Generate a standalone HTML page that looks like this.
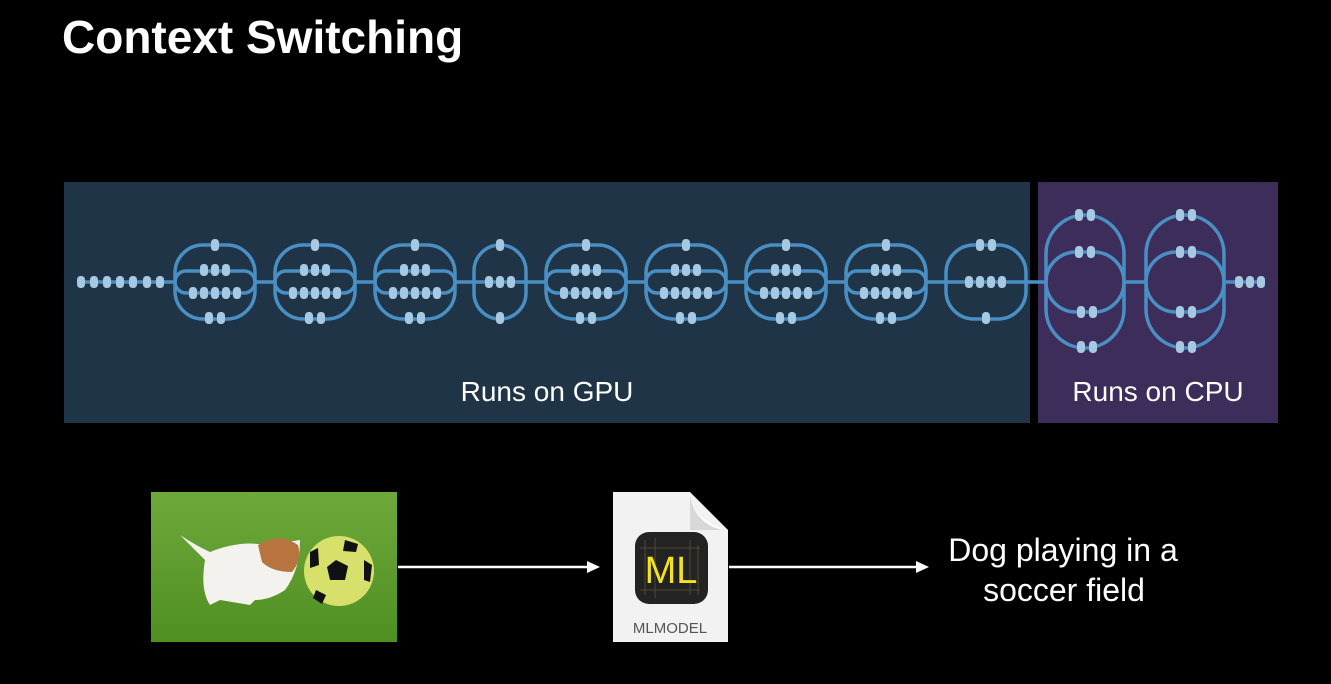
<!DOCTYPE html>
<html><head><meta charset="utf-8"><style>
html,body{margin:0;padding:0;background:#000;}
body{width:1331px;height:684px;overflow:hidden;font-family:"Liberation Sans",sans-serif;}
</style></head><body>
<svg width="1331" height="684" viewBox="0 0 1331 684" xmlns="http://www.w3.org/2000/svg" style="display:block">
<defs>
<rect id="d" x="-4" y="-6" width="8" height="12" rx="3.5" fill="#a6c9e1"/>
<linearGradient id="g" x1="0" y1="0" x2="0" y2="1"><stop offset="0" stop-color="#6fa83a"/><stop offset="1" stop-color="#4f8f22"/></linearGradient>
</defs>
<rect width="1331" height="684" fill="#000"/>
<text x="62" y="53" fill="#fff" font-size="46" font-weight="bold">Context Switching</text>
<rect x="64" y="182" width="966" height="241" fill="#1f3446"/>
<rect x="1038" y="182" width="240" height="241" fill="#3d2d5a"/>
<text x="547" y="401" fill="#fff" font-size="28" text-anchor="middle">Runs on GPU</text>
<text x="1158" y="401" fill="#fff" font-size="28" text-anchor="middle">Runs on CPU</text>
<g stroke="#4a8fc4" stroke-width="3.5" fill="none">
<path d="M80 282H175M255 282H275M355 282H375M455 282H474M474 282H526M526 282H546M626 282H646M726 282H746M826 282H846M926 282H946M946 282H1026M1026 282H1046M1124 282H1146M1224 282H1262"/>
<rect x="175" y="245" width="80" height="74" rx="28"/><rect x="175" y="271" width="80" height="22" rx="11"/>
<rect x="275" y="245" width="80" height="74" rx="28"/><rect x="275" y="271" width="80" height="22" rx="11"/>
<rect x="375" y="245" width="80" height="74" rx="28"/><rect x="375" y="271" width="80" height="22" rx="11"/>
<rect x="474" y="245" width="52" height="74" rx="26"/>
<rect x="546" y="245" width="80" height="74" rx="28"/><rect x="546" y="271" width="80" height="22" rx="11"/>
<rect x="646" y="245" width="80" height="74" rx="28"/><rect x="646" y="271" width="80" height="22" rx="11"/>
<rect x="746" y="245" width="80" height="74" rx="28"/><rect x="746" y="271" width="80" height="22" rx="11"/>
<rect x="846" y="245" width="80" height="74" rx="28"/><rect x="846" y="271" width="80" height="22" rx="11"/>
<rect x="946" y="245" width="80" height="74" rx="28"/>
<rect x="1046" y="215" width="78" height="133" rx="39"/><rect x="1046" y="252" width="78" height="60" rx="30"/>
<rect x="1146" y="215" width="78" height="133" rx="39"/><rect x="1146" y="252" width="78" height="60" rx="30"/>
</g>
<g>
<use href="#d" x="81" y="282"/><use href="#d" x="94" y="282"/><use href="#d" x="107" y="282"/><use href="#d" x="120" y="282"/><use href="#d" x="133" y="282"/><use href="#d" x="147" y="282"/><use href="#d" x="160" y="282"/>
<use href="#d" x="215" y="245"/><use href="#d" x="204" y="270"/><use href="#d" x="215" y="270"/><use href="#d" x="226" y="270"/>
<use href="#d" x="193" y="293"/><use href="#d" x="204" y="293"/><use href="#d" x="215" y="293"/><use href="#d" x="226" y="293"/><use href="#d" x="237" y="293"/>
<use href="#d" x="209" y="318"/><use href="#d" x="221" y="318"/>
<use href="#d" x="315" y="245"/><use href="#d" x="304" y="270"/><use href="#d" x="315" y="270"/><use href="#d" x="326" y="270"/>
<use href="#d" x="293" y="293"/><use href="#d" x="304" y="293"/><use href="#d" x="315" y="293"/><use href="#d" x="326" y="293"/><use href="#d" x="337" y="293"/>
<use href="#d" x="309" y="318"/><use href="#d" x="321" y="318"/>
<use href="#d" x="415" y="245"/><use href="#d" x="404" y="270"/><use href="#d" x="415" y="270"/><use href="#d" x="426" y="270"/>
<use href="#d" x="393" y="293"/><use href="#d" x="404" y="293"/><use href="#d" x="415" y="293"/><use href="#d" x="426" y="293"/><use href="#d" x="437" y="293"/>
<use href="#d" x="409" y="318"/><use href="#d" x="421" y="318"/>
<use href="#d" x="500" y="245"/><use href="#d" x="489" y="282"/><use href="#d" x="500" y="282"/><use href="#d" x="511" y="282"/><use href="#d" x="500" y="318"/>
<use href="#d" x="586" y="245"/><use href="#d" x="575" y="270"/><use href="#d" x="586" y="270"/><use href="#d" x="597" y="270"/>
<use href="#d" x="564" y="293"/><use href="#d" x="575" y="293"/><use href="#d" x="586" y="293"/><use href="#d" x="597" y="293"/><use href="#d" x="608" y="293"/>
<use href="#d" x="580" y="318"/><use href="#d" x="592" y="318"/>
<use href="#d" x="686" y="245"/><use href="#d" x="675" y="270"/><use href="#d" x="686" y="270"/><use href="#d" x="697" y="270"/>
<use href="#d" x="664" y="293"/><use href="#d" x="675" y="293"/><use href="#d" x="686" y="293"/><use href="#d" x="697" y="293"/><use href="#d" x="708" y="293"/>
<use href="#d" x="680" y="318"/><use href="#d" x="692" y="318"/>
<use href="#d" x="786" y="245"/><use href="#d" x="775" y="270"/><use href="#d" x="786" y="270"/><use href="#d" x="797" y="270"/>
<use href="#d" x="764" y="293"/><use href="#d" x="775" y="293"/><use href="#d" x="786" y="293"/><use href="#d" x="797" y="293"/><use href="#d" x="808" y="293"/>
<use href="#d" x="780" y="318"/><use href="#d" x="792" y="318"/>
<use href="#d" x="886" y="245"/><use href="#d" x="875" y="270"/><use href="#d" x="886" y="270"/><use href="#d" x="897" y="270"/>
<use href="#d" x="864" y="293"/><use href="#d" x="875" y="293"/><use href="#d" x="886" y="293"/><use href="#d" x="897" y="293"/><use href="#d" x="908" y="293"/>
<use href="#d" x="880" y="318"/><use href="#d" x="892" y="318"/>
<use href="#d" x="980" y="245"/><use href="#d" x="992" y="245"/>
<use href="#d" x="969" y="282"/><use href="#d" x="980" y="282"/><use href="#d" x="991" y="282"/><use href="#d" x="1002" y="282"/>
<use href="#d" x="986" y="318"/>
<use href="#d" x="1079" y="215"/><use href="#d" x="1091" y="215"/><use href="#d" x="1079" y="252"/><use href="#d" x="1091" y="252"/>
<use href="#d" x="1081" y="312"/><use href="#d" x="1093" y="312"/><use href="#d" x="1081" y="347"/><use href="#d" x="1093" y="347"/>
<use href="#d" x="1180" y="215"/><use href="#d" x="1192" y="215"/><use href="#d" x="1180" y="252"/><use href="#d" x="1192" y="252"/>
<use href="#d" x="1180" y="312"/><use href="#d" x="1192" y="312"/><use href="#d" x="1180" y="347"/><use href="#d" x="1192" y="347"/>
<use href="#d" x="1239" y="282"/><use href="#d" x="1250" y="282"/><use href="#d" x="1261" y="282"/>
</g>
<rect x="151" y="492" width="246" height="150" fill="url(#g)"/>
<path d="M180 535 Q195 545 210 552 Q240 540 265 545 L300 540 Q300 570 285 590 Q270 600 255 600 L250 605 L220 600 L210 605 Q200 590 205 560 Z" fill="#f3f2ee"/>
<path d="M258 545 Q280 532 298 545 Q302 560 292 572 Q272 572 262 562 Z" fill="#b8743f"/>
<circle cx="339" cy="571" r="35" fill="#d7e06a"/>
<polygon points="336,560 348,566 345,580 330,580 327,567" fill="#111"/>
<polygon points="345,540 358,544 356,552 343,551" fill="#111"/>
<polygon points="310,552 318,548 319,565 310,568" fill="#111"/>
<polygon points="364,560 372,565 370,582 364,580" fill="#111"/>
<polygon points="316,590 326,595 322,604 313,598" fill="#111"/>
<g stroke="#fff" stroke-width="2.5"><path d="M398 567H590"/><path d="M729 567H918"/></g>
<polygon points="600,567 587,561 587,573" fill="#fff"/>
<polygon points="929,567 916,561 916,573" fill="#fff"/>
<path d="M613 492 H690 L728 530 V642 H613 Z" fill="#f2f2f2"/>
<path d="M690 492 Q692 526 728 530 L690 530 Z" fill="#d8d8d8"/>
<path d="M690 492 Q694 522 728 530 Q698 530 690 492Z" fill="#fff"/>
<rect x="635" y="532" width="73" height="72" rx="14" fill="#232323"/>
<g stroke="#5a5530" stroke-width="0.8" fill="none"><path d="M645 540v55M655 538v60M690 540v55M698 545v50M640 590h60M640 548h60"/></g>
<text x="671" y="583" fill="#f4e21b" font-size="38" text-anchor="middle">ML</text>
<text x="670" y="633" fill="#555" font-size="15" text-anchor="middle">MLMODEL</text>
<text x="1063" y="561" fill="#fff" font-size="32" text-anchor="middle">Dog playing in a</text>
<text x="1064" y="601" fill="#fff" font-size="32" text-anchor="middle">soccer field</text>
</svg>
</body></html>
